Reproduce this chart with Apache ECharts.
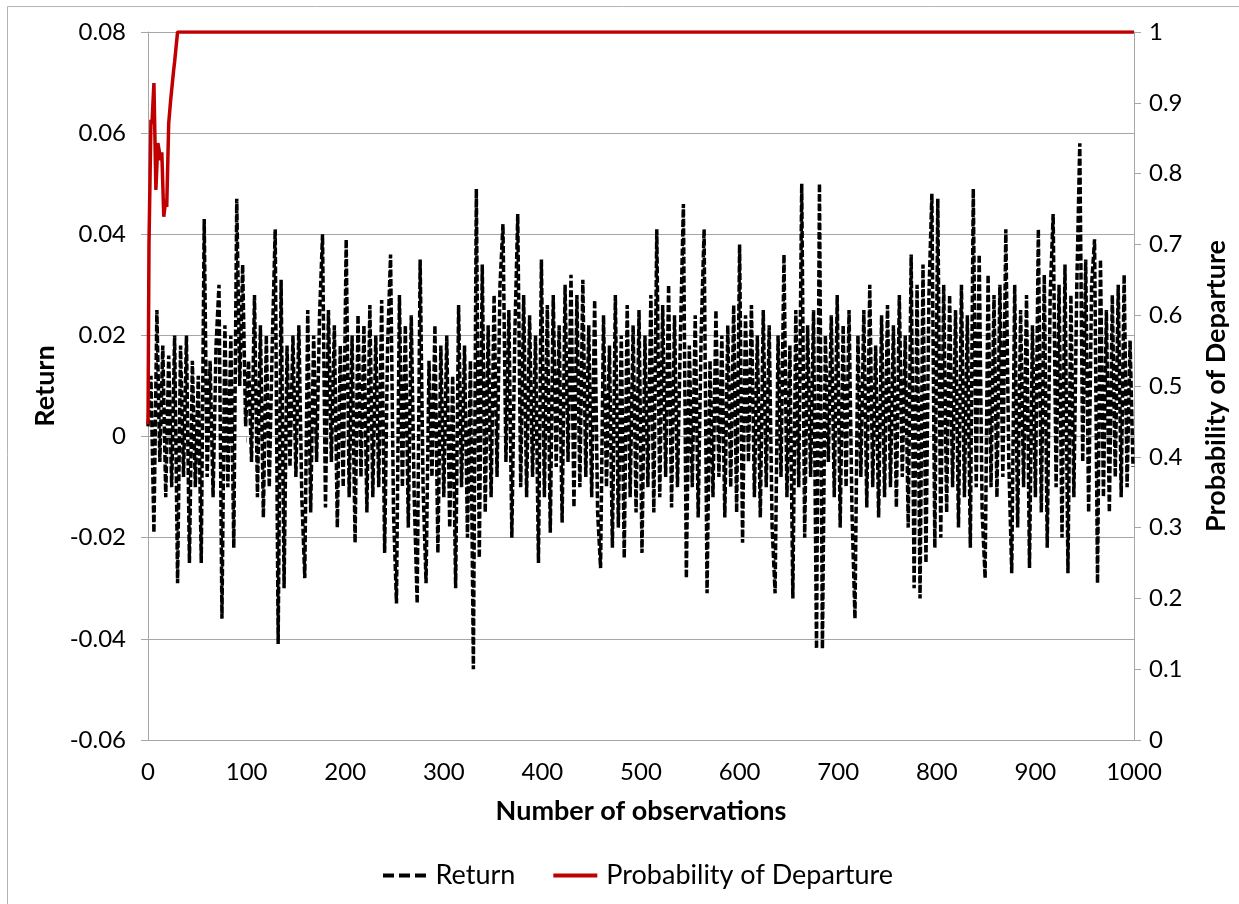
<!DOCTYPE html>
<html>
<head>
<meta charset="utf-8">
<script src="https://cdn.jsdelivr.net/npm/echarts@6/dist/echarts.min.js"></script>
<style>
  html, body { margin: 0; padding: 0; background: #fff; }
  #chart { width: 1239px; height: 904px; }
</style>
</head>
<body>
<div id="chart"></div>
<script>
// Return, one value every 3 observations (0, 3, 6, ... 999)
var returnStep = 3;
var returnVals = [
  0.002, 0.012, -0.019, 0.025, -0.005, 0.018, -0.012, 0.016, -0.010, 0.020,
  -0.029, 0.018, -0.008, 0.020, -0.025, 0.015, -0.010, 0.012, -0.025, 0.043,
  -0.008, 0.015, -0.012, 0.018, 0.030, -0.036, 0.022, -0.010, 0.020, -0.022,
  0.047, 0.010, 0.034, 0.002, 0.015, -0.005, 0.028, -0.012, 0.022, -0.016,
  0.020, -0.010, 0.018, 0.041, -0.041, 0.031, -0.030, 0.018, -0.006, 0.020,
  -0.008, 0.022, -0.012, -0.028, 0.025, -0.015, 0.020, -0.005, 0.024, 0.040,
  -0.014, 0.025, -0.005, 0.022, -0.018, 0.018, -0.010, 0.039, -0.012, 0.020,
  -0.021, 0.024, -0.008, 0.022, -0.015, 0.026, -0.012, 0.020, -0.010, 0.027,
  -0.023, 0.018, 0.036, -0.015, -0.033, 0.028, -0.010, 0.022, -0.018, 0.024,
  -0.012, -0.033, 0.035, -0.010, -0.029, 0.015, -0.008, 0.022, -0.023, 0.018,
  -0.012, 0.020, -0.018, 0.012, -0.030, 0.026, -0.010, 0.018, -0.020, 0.015,
  -0.046, 0.049, -0.024, 0.034, -0.015, 0.022, -0.012, 0.028, -0.008, 0.030,
  0.042, -0.005, 0.025, -0.020, 0.020, 0.044, -0.010, 0.028, -0.012, 0.024,
  -0.008, 0.020, -0.025, 0.035, -0.012, 0.026, -0.019, 0.028, -0.006, 0.022,
  -0.017, 0.030, -0.005, 0.032, -0.014, 0.028, -0.010, 0.031, -0.008, 0.022,
  -0.012, 0.027, -0.015, -0.026, 0.024, -0.010, 0.018, -0.022, 0.028, -0.018,
  0.020, -0.024, 0.026, -0.012, 0.022, -0.015, 0.025, -0.023, 0.020, -0.010,
  0.028, -0.015, 0.041, -0.012, 0.026, -0.008, 0.030, -0.014, 0.024, -0.010,
  0.020, 0.046, -0.028, 0.018, -0.010, 0.024, -0.016, 0.020, 0.041, -0.031,
  0.015, -0.012, 0.025, -0.008, 0.020, -0.016, 0.022, -0.010, 0.026, -0.015,
  0.038, -0.021, 0.024, -0.005, 0.026, -0.012, 0.020, -0.016, 0.025, -0.010,
  0.022, -0.018, -0.031, 0.020, -0.008, 0.036, -0.012, 0.018, -0.032, 0.025,
  -0.010, 0.050, -0.020, 0.022, -0.008, 0.025, -0.042, 0.050, -0.042, 0.020,
  -0.005, 0.024, -0.012, 0.028, -0.018, 0.022, -0.010, 0.025, -0.015, -0.036,
  0.020, -0.008, 0.025, -0.014, 0.030, -0.010, 0.018, -0.016, 0.024, -0.012,
  0.026, -0.010, 0.022, -0.014, 0.028, -0.008, 0.020, -0.018, 0.036, -0.030,
  0.030, -0.032, 0.034, -0.025, 0.028, 0.048, -0.022, 0.047, -0.020, 0.030,
  -0.015, 0.028, -0.010, 0.025, -0.018, 0.030, -0.012, 0.024, -0.022, 0.049,
  -0.010, 0.036, -0.015, -0.028, 0.032, -0.010, 0.028, -0.012, 0.030, -0.008,
  0.041, -0.005, -0.027, 0.030, -0.018, 0.025, -0.010, 0.028, -0.026, 0.022,
  -0.012, 0.041, -0.015, 0.032, -0.022, 0.028, 0.044, -0.010, 0.030, -0.020,
  0.034, -0.027, 0.028, -0.012, 0.030, 0.058, -0.005, 0.035, -0.015, 0.030,
  0.039, -0.029, 0.035, -0.012, 0.025, -0.015, 0.028, -0.008, 0.030, -0.012,
  0.032, -0.010, 0.019, -0.006
];

// Probability of Departure
var probObs  = [0, 1, 3, 4, 6, 8, 10, 13, 14, 16, 18, 19, 21, 23, 26, 27, 30, 1000];
var probVals = [0.446, 0.70, 0.876, 0.87, 0.928, 0.777, 0.843, 0.819, 0.83, 0.739,
                0.763, 0.753, 0.871, 0.904, 0.946, 0.958, 1, 1];

var FONT = 'Lato';
var GRAY = '#a6a6a6';

var returnData = returnVals.map(function (v, i) { return [i * returnStep, v]; });
var probData = probObs.map(function (x, i) { return [x, probVals[i]]; });

var chart = echarts.init(document.getElementById('chart'));

var option = {
    animation: false,
    backgroundColor: '#fff',
    textStyle: { fontFamily: FONT, color: '#000' },
    graphic: [{
        type: 'rect',
        shape: { x: 7.5, y: 6.5, width: 1240, height: 1000 },
        style: { fill: 'none', stroke: '#b4b4b4', lineWidth: 1 },
        silent: true
    }],
    grid: { left: 148, right: 105, top: 32, bottom: 164 },
    legend: {
        top: 857,
        left: 378,
        itemWidth: 44,
        itemHeight: 4,
        itemGap: 38,
        textStyle: { fontFamily: FONT, fontSize: 27, color: '#000', padding: [0, 0, 0, 4] },
        data: [
            { name: 'Return', icon: 'path://M0,0h11v4h-11z M16,0h11v4h-11z M32,0h11v4h-11z' },
            { name: 'Probability of Departure', icon: 'rect' }
        ]
    },
    xAxis: [
        {
            type: 'value',
            min: 0,
            max: 1000,
            interval: 100,
            name: 'Number of observations',
            nameLocation: 'middle',
            nameGap: 58,
            nameTextStyle: { fontFamily: FONT, fontSize: 27, fontWeight: 'bold', color: '#000' },
            axisLine: { show: false, onZero: false },
            axisTick: { show: false },
            splitLine: { show: false },
            axisLabel: {
                fontFamily: FONT, fontSize: 24, color: '#000', margin: 20,
                formatter: function (v) { return String(v); }
            }
        },
        {
            // axis line drawn across the zero of the Return axis
            type: 'value',
            min: 0,
            max: 1000,
            interval: 100,
            position: 'bottom',
            axisLine: { show: true, onZero: true, onZeroAxisIndex: 0, lineStyle: { color: GRAY, width: 1 } },
            axisTick: { show: true, length: 6, lineStyle: { color: GRAY } },
            axisLabel: { show: false },
            splitLine: { show: false }
        }
    ],
    yAxis: [
        {
            type: 'value',
            min: -0.06,
            max: 0.08,
            interval: 0.02,
            name: 'Return',
            nameLocation: 'middle',
            nameGap: 87,
            nameRotate: 90,
            nameTextStyle: { fontFamily: FONT, fontSize: 27, fontWeight: 'bold', color: '#000' },
            axisLine: { show: true, onZero: false, lineStyle: { color: GRAY, width: 1 } },
            axisTick: { show: true, length: 7, lineStyle: { color: GRAY } },
            splitLine: { show: true, lineStyle: { color: GRAY, width: 1 } },
            axisLabel: {
                fontFamily: FONT, fontSize: 24, color: '#000', margin: 22,
                formatter: function (v) { return Math.abs(v) < 1e-9 ? '0' : v.toFixed(2); }
            }
        },
        {
            type: 'value',
            min: 0,
            max: 1,
            interval: 0.1,
            name: 'Probability of Departure',
            nameLocation: 'middle',
            nameGap: 69,
            nameRotate: 90,
            nameTextStyle: { fontFamily: FONT, fontSize: 27, fontWeight: 'bold', color: '#000' },
            axisLine: { show: true, onZero: false, lineStyle: { color: GRAY, width: 1 } },
            axisTick: { show: true, length: 7, lineStyle: { color: GRAY } },
            splitLine: { show: false },
            axisLabel: {
                fontFamily: FONT, fontSize: 24, color: '#000', margin: 15,
                formatter: function (v) { return String(parseFloat(v.toFixed(1))); }
            }
        }
    ],
    series: [
        {
            name: 'Return',
            type: 'line',
            xAxisIndex: 0,
            yAxisIndex: 0,
            data: returnData,
            showSymbol: false,
            symbol: 'none',
            color: '#000',
            lineStyle: { color: '#000', width: 3.5, type: [7, 2.5], cap: 'butt' }
        },
        {
            name: 'Probability of Departure',
            type: 'line',
            xAxisIndex: 0,
            yAxisIndex: 1,
            data: probData,
            showSymbol: false,
            symbol: 'none',
            color: '#c00000',
            lineStyle: { color: '#c00000', width: 3.5 }
        }
    ]
};

chart.setOption(option);
</script>
</body>
</html>
